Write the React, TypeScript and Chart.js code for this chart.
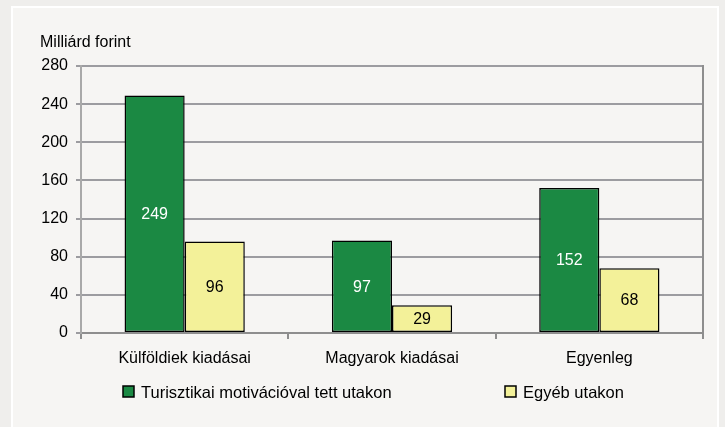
import React, { useEffect, useRef } from "react";
import { Chart, registerables } from "chart.js";

Chart.register(...registerables);

const categories = ["Külföldiek kiadásai", "Magyarok kiadásai", "Egyenleg"];
const seriesNames = ["Turisztikai motivációval tett utakon", "Egyéb utakon"];
const tourismValues = [249, 97, 152];
const otherValues = [96, 29, 68];
const yTicks = [0, 40, 80, 120, 160, 200, 240, 280];
const yTitle = "Milliárd forint";

const GREEN = "#1b8943";
const YELLOW = "#f3f199";
const FONT = "Arial, 'Liberation Sans', sans-serif";

const decorPlugin = {
  id: "decor",
  afterDatasetsDraw(chart: any) {
    const { ctx, chartArea } = chart;
    ctx.save();
    // right border of plot
    ctx.strokeStyle = "#8e8e8e";
    ctx.lineWidth = 2;
    ctx.beginPath();
    ctx.moveTo(chartArea.right, chartArea.top - 1);
    ctx.lineTo(chartArea.right, chartArea.bottom);
    ctx.stroke();

    // data labels
    ctx.font = `16px ${FONT}`;
    ctx.textAlign = "center";
    ctx.textBaseline = "middle";
    chart.data.datasets.forEach((ds: any, di: number) => {
      const meta = chart.getDatasetMeta(di);
      meta.data.forEach((bar: any, i: number) => {
        const v = ds.data[i];
        const y = (bar.y + bar.base) / 2;
        ctx.fillStyle = di === 0 ? "#ffffff" : "#000000";
        ctx.fillText(String(v), bar.x, y + 1);
      });
    });

    // title
    ctx.fillStyle = "#000";
    ctx.textAlign = "left";
    ctx.fillText(yTitle, 40, 43);

    // legend
    ctx.font = `16.5px ${FONT}`;
    const items = [
      { x: 123, color: GREEN, text: seriesNames[0] },
      { x: 505, color: YELLOW, text: seriesNames[1] },
    ];
    const ly = 392;
    items.forEach((it) => {
      ctx.fillStyle = it.color;
      ctx.fillRect(it.x, ly - 6, 11, 11);
      ctx.strokeStyle = "#000";
      ctx.lineWidth = 1.5;
      ctx.strokeRect(it.x, ly - 6, 11, 11);
      ctx.fillStyle = "#000";
      ctx.textAlign = "left";
      ctx.fillText(it.text, it.x + 18, ly + 1);
    });
    ctx.restore();
  },
};

export default function App() {
  const ref = useRef<HTMLCanvasElement>(null);
  useEffect(() => {
    const chart = new Chart(ref.current!, {
      type: "bar",
      data: {
        labels: categories,
        datasets: [
          {
            label: seriesNames[0],
            data: tourismValues,
            backgroundColor: GREEN,
            borderColor: "#000",
            borderWidth: 1.5,
            borderSkipped: false,
          },
          {
            label: seriesNames[1],
            data: otherValues,
            backgroundColor: YELLOW,
            borderColor: "#000",
            borderWidth: 1.5,
            borderSkipped: false,
          },
        ],
      },
      options: {
        animation: false,
        responsive: false,
        devicePixelRatio: 1,
        layout: { padding: { left: 0, right: 22, top: 66, bottom: 54 } },
        plugins: { legend: { display: false }, tooltip: { enabled: false } },
        datasets: { bar: { categoryPercentage: 0.58, barPercentage: 1 } },
        scales: {
          x: {
            afterFit: (s: any) => {
              s.height = 40;
            },
            grid: {
              drawOnChartArea: false,
              drawTicks: true,
              tickLength: 6,
              color: "#8e8e8e",
              lineWidth: 2,
              offset: true,
            },
            border: { display: true, color: "#8e8e8e", width: 2 },
            ticks: { color: "#000", font: { family: FONT, size: 16 }, padding: 10 },
          },
          y: {
            min: 0,
            max: 280,
            afterFit: (s: any) => {
              s.width = 81;
            },
            afterBuildTicks: (s: any) => {
              s.ticks = yTicks.map((v) => ({ value: v }));
            },
            grid: {
              color: "#9c9ca0",
              lineWidth: 2,
              tickLength: 5,
            },
            border: { display: true, color: "#a9a9a9", width: 2 },
            ticks: { color: "#000", font: { family: FONT, size: 16 }, padding: 8 },
          },
        },
      },
      plugins: [decorPlugin],
    });
    return () => chart.destroy();
  }, []);

  return (
    <div
      style={{
        position: "fixed",
        left: 0,
        top: 0,
        width: 725,
        height: 427,
        background: "#efeeec",
        overflow: "hidden",
      }}
    >
      <div
        style={{
          position: "absolute",
          left: 11,
          top: 6,
          width: 708,
          height: 430,
          background: "#f6f5f3",
          border: "2px solid #ffffff",
          boxSizing: "border-box",
        }}
      />
      <canvas
        ref={ref}
        width={725}
        height={427}
        style={{ position: "absolute", left: 0, top: 0, width: 725, height: 427 }}
      />
    </div>
  );
}
